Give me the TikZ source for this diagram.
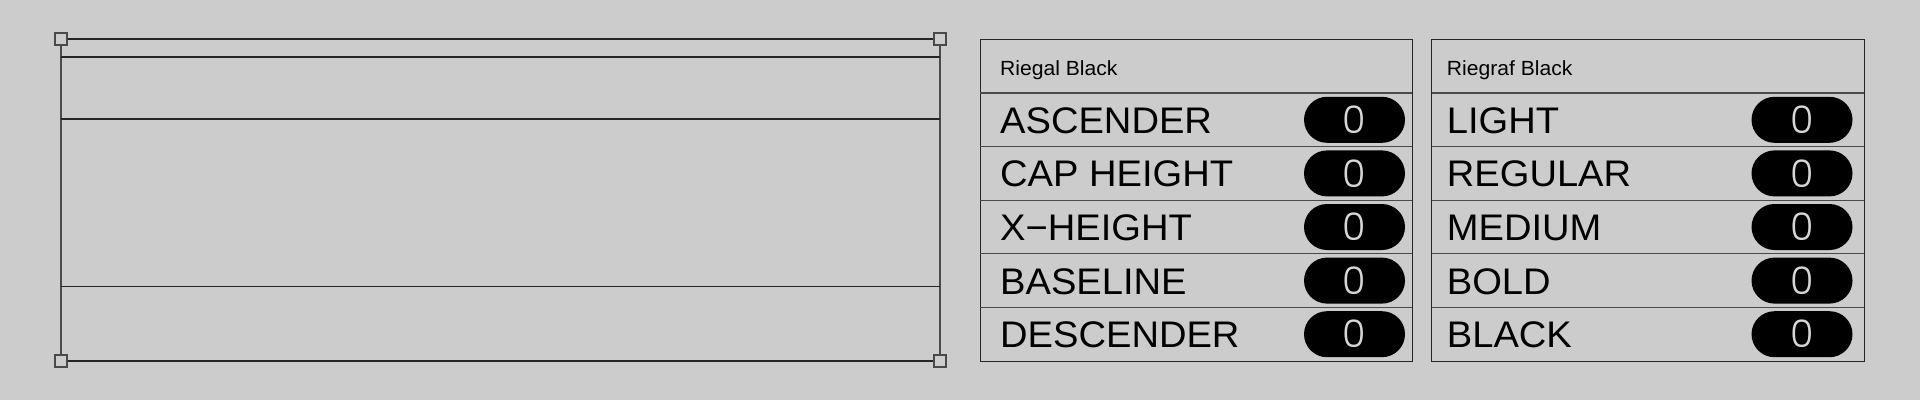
\documentclass[tikz,border=0pt]{standalone}
\usepackage{fontspec}
\setmainfont{Liberation Sans}[FakeStretch=1.03]
\newfontfamily\zerofont{Poppins Light}
\definecolor{bg}{HTML}{CCCCCC}
\definecolor{ln}{HTML}{262626}
\definecolor{sep}{HTML}{4A4A4A}
\definecolor{zero}{HTML}{D6D6D6}
\tikzset{
  frame/.style={draw=ln, line width=1.1pt},
  vframe/.style={draw=sep, line width=1.1pt},
  handle/.style={draw=sep, fill=bg, line width=1.1pt, minimum size=12pt, inner sep=0pt, rectangle},
  panel/.style={draw=ln, line width=1pt},
  rowsep/.style={draw=sep, line width=1.3pt},
  headtext/.style={anchor=base west, inner sep=0pt, font=\fontsize{20.5}{21}\selectfont, text=black},
  labeltext/.style={anchor=base west, inner sep=0pt, font=\fontsize{37}{38}\selectfont, text=black},
  pill/.style={fill=black, text=zero, minimum width=101pt, minimum height=46pt, rounded corners=23pt, inner sep=0pt, font=\zerofont\fontsize{38}{38}\selectfont}
}
\begin{document}
\begin{tikzpicture}[x=1pt,y=-1pt]
\fill[bg] (0,0) rectangle (1920,400);
\useasboundingbox (0,0) rectangle (1920,400);

% left metric frame
\coordinate (tl) at (61,39);
\coordinate (tr) at (940,39);
\coordinate (bl) at (61,361);
\coordinate (br) at (940,361);
\draw[vframe] (tl) -- (bl);
\draw[vframe] (tr) -- (br);
\draw[frame] (tl) -- (tr);
\draw[frame] (bl) -- (br);
\draw[frame] (61,57) -- (940,57);
\draw[frame] (61,119) -- (940,119);
\draw[frame] (61,286.5) -- (940,286.5);
\node[handle] (htl) at (tl) {};
\node[handle] (htr) at (tr) {};
\node[handle] (hbl) at (bl) {};
\node[handle] (hbr) at (br) {};

% panel 1
\draw[panel] (980,39.3) rectangle (1412,361);
\foreach \k in {0,...,4} {
  \draw[rowsep] (980,93+53.6*\k) -- (1412,93+53.6*\k);
}
\node[headtext] (h1) at (1000,75.7) {Riegal Black};
\foreach \t [count=\i from 0] in {ASCENDER,CAP HEIGHT,X−HEIGHT,BASELINE,DESCENDER} {
  \node[labeltext] (a\i) at (1000,133.3+53.6*\i) {\t};
  \node[pill] (pa\i) at (1354.5,119.8+53.6*\i) {0};
}

% panel 2
\draw[panel] (1431.7,39.3) rectangle (1864,361);
\foreach \k in {0,...,4} {
  \draw[rowsep] (1431.7,93+53.6*\k) -- (1864,93+53.6*\k);
}
\node[headtext] (h2) at (1446.7,75.7) {Riegraf Black};
\foreach \t [count=\i from 0] in {LIGHT,REGULAR,MEDIUM,BOLD,BLACK} {
  \node[labeltext] (b\i) at (1446.7,133.3+53.6*\i) {\t};
  \node[pill] (pb\i) at (1802,119.8+53.6*\i) {0};
}
\end{tikzpicture}
\end{document}
